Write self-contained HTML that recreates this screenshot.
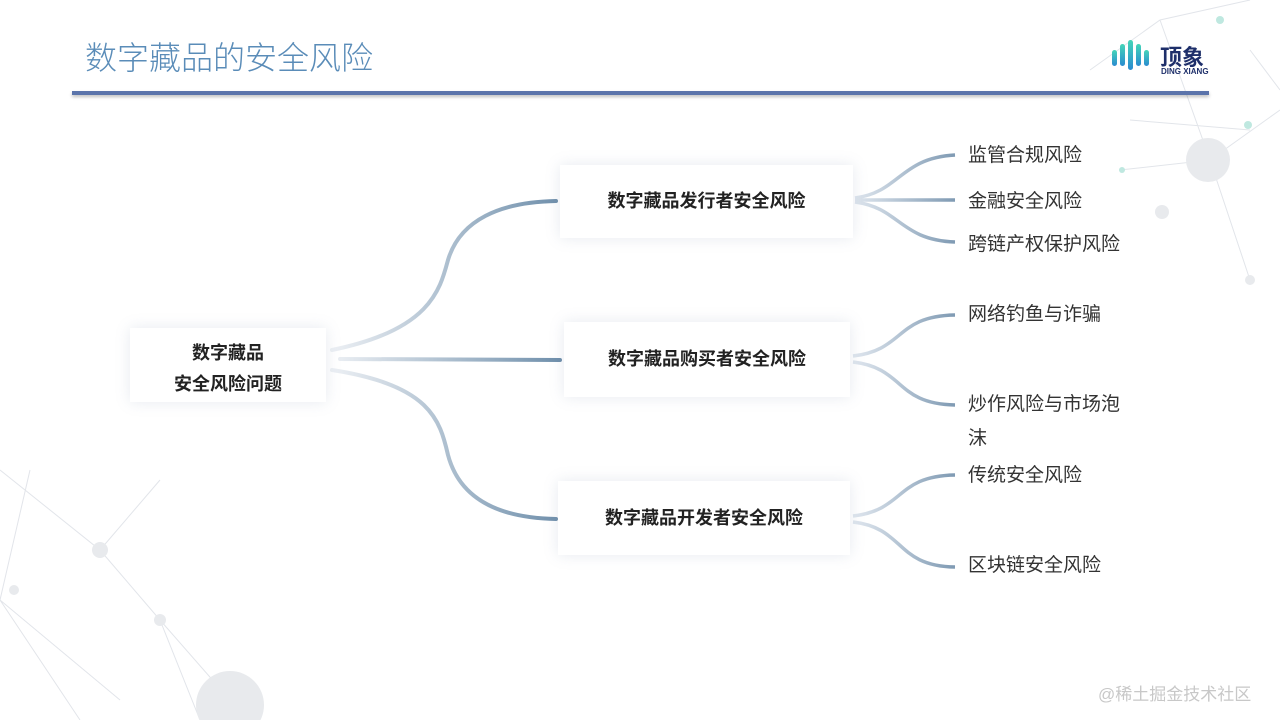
<!DOCTYPE html>
<html><head><meta charset="utf-8">
<style>
html,body{margin:0;padding:0;}
body{width:1280px;height:720px;background:#fff;position:relative;overflow:hidden;font-family:"Liberation Sans","Noto Sans CJK SC",sans-serif;}
.title{position:absolute;left:85px;top:33px;font-size:32px;color:#5a8cb8;font-weight:300;}
.bar{position:absolute;left:72px;top:91px;width:1137px;height:4px;background:#5b74ab;box-shadow:0 2px 3px rgba(0,0,0,0.25);}
.box{position:absolute;background:#fff;box-shadow:0 0 14px rgba(120,140,170,0.18);display:flex;align-items:center;justify-content:center;text-align:center;font-weight:bold;font-size:18px;color:#222;line-height:31px;}
.leaf{position:absolute;font-size:19px;color:#333;line-height:34px;}
svg{position:absolute;left:0;top:0;}
</style></head><body>
<svg width="1280" height="720">
<defs>
<linearGradient id="g" gradientUnits="userSpaceOnUse" x1="330" x2="560" y1="0" y2="0"><stop offset="0" stop-color="#eef1f5"/><stop offset="1" stop-color="#6f8fab"/></linearGradient>
<linearGradient id="g2" gradientUnits="userSpaceOnUse" x1="855" x2="955" y1="0" y2="0"><stop offset="0" stop-color="#dfe6ee"/><stop offset="1" stop-color="#7f9ab3"/></linearGradient>
</defs>
<g stroke="#e2e5ea" stroke-width="1" fill="none">
<path d="M1090 70 L1160 20 L1250 0 M1160 20 L1210 160 L1280 110 M1120 170 L1210 160 L1250 280 M1250 50 L1280 90 M1130 120 L1250 130"/>
<path d="M0 470 L100 550 L160 480 M30 470 L0 600 L120 700 M100 550 L160 620 L230 700 M0 600 L80 720 M160 620 L200 720"/>
</g>
<g fill="#e8eaed">
<circle cx="1208" cy="160" r="22"/><circle cx="1162" cy="212" r="7"/><circle cx="1250" cy="280" r="5"/>
<circle cx="100" cy="550" r="8"/><circle cx="160" cy="620" r="6"/><circle cx="230" cy="705" r="34"/><circle cx="14" cy="590" r="5"/>
</g>
<g fill="#bfe8e0"><circle cx="1248" cy="125" r="4"/><circle cx="1220" cy="20" r="4"/><circle cx="1122" cy="170" r="3"/></g>
<g fill="none" stroke-width="4" stroke-linecap="round">
<path d="M332 350 C430 330 440 290 448 260 C460 220 500 202 556 201" stroke="url(#g)"/>
<path d="M340 359 L560 360" stroke="url(#g)"/>
<path d="M332 370 C430 385 440 420 448 455 C460 500 500 518 556 519" stroke="url(#g)"/>
</g>
<g fill="none" stroke-width="3.5" stroke="url(#g2)">
<path d="M855 198 C900 192 900 158 955 155"/>
<path d="M855 200 L955 200"/>
<path d="M855 202 C900 208 900 240 955 242"/>
<path d="M853 356 C905 350 895 316 955 315"/>
<path d="M853 362 C905 368 895 404 955 405"/>
<path d="M853 516 C905 510 895 476 955 475"/>
<path d="M853 522 C905 528 895 566 955 567"/>
</g>
</svg>
<div class="title">数字藏品的安全风险</div>
<div class="bar"></div>
<div style="position:absolute;left:1112px;top:40px;width:36px;height:36px;">
<div style="position:absolute;left:0;top:10px;width:5px;height:16px;border-radius:3px;background:linear-gradient(#45d5b8,#2a8bd0)"></div>
<div style="position:absolute;left:8px;top:4px;width:5px;height:22px;border-radius:3px;background:linear-gradient(#45d5b8,#2a8bd0)"></div>
<div style="position:absolute;left:16px;top:0;width:5px;height:30px;border-radius:3px;background:linear-gradient(#45d5b8,#2a8bd0)"></div>
<div style="position:absolute;left:24px;top:4px;width:5px;height:22px;border-radius:3px;background:linear-gradient(#45d5b8,#2a8bd0)"></div>
<div style="position:absolute;left:32px;top:10px;width:5px;height:16px;border-radius:3px;background:linear-gradient(#45d5b8,#2a8bd0)"></div>
</div>
<div style="position:absolute;left:1160px;top:40px;font-size:22px;color:#1e2f6a;font-weight:bold;">顶象</div>
<div style="position:absolute;left:1161px;top:67px;font-size:8px;color:#1e2f6a;font-weight:bold;">DING XIANG</div>

<div class="box" style="left:130px;top:328px;width:196px;height:74px;padding-top:8px;box-sizing:border-box;">数字藏品<br>安全风险问题</div>
<div class="box" style="left:560px;top:165px;width:293px;height:73px;">数字藏品发行者安全风险</div>
<div class="box" style="left:564px;top:322px;width:286px;height:75px;">数字藏品购买者安全风险</div>
<div class="box" style="left:558px;top:481px;width:292px;height:74px;">数字藏品开发者安全风险</div>

<div class="leaf" style="left:968px;top:139px;">监管合规风险</div>
<div class="leaf" style="left:968px;top:185px;">金融安全风险</div>
<div class="leaf" style="left:968px;top:228px;">跨链产权保护风险</div>
<div class="leaf" style="left:968px;top:298px;">网络钓鱼与诈骗</div>
<div class="leaf" style="left:968px;top:388px;width:156px;">炒作风险与市场泡沫</div>
<div class="leaf" style="left:968px;top:459px;">传统安全风险</div>
<div class="leaf" style="left:968px;top:549px;">区块链安全风险</div>

<div style="position:absolute;left:1098px;top:680px;font-size:17px;color:#c8c8c8;">@稀土掘金技术社区</div>
</body></html>
